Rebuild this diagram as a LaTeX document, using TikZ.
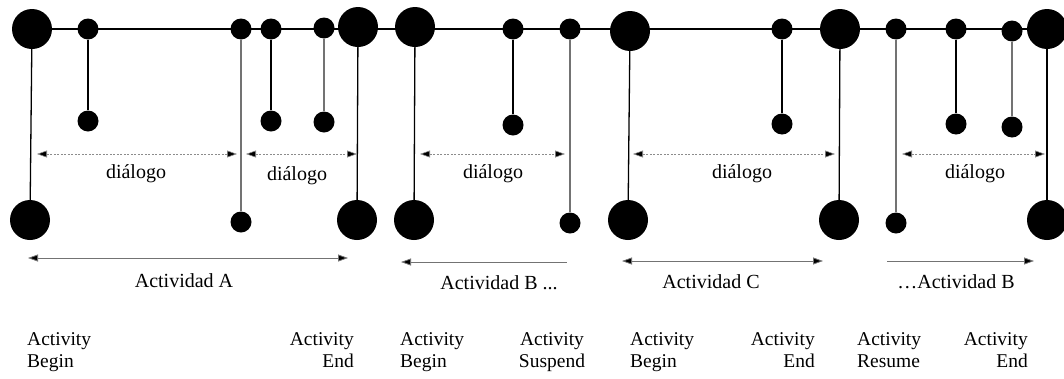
\documentclass[tikz,border=0pt]{standalone}
\usepackage{fontspec}
\setmainfont{Liberation Serif}
\usetikzlibrary{arrows.meta}
\begin{document}
\begin{tikzpicture}[x=1pt,y=-1pt,
  >={Triangle[length=10pt,width=7pt,fill=black]},
  big/.style={circle,fill=black,inner sep=0pt,minimum size=40pt},
  small/.style={circle,fill=black,inner sep=0pt,minimum size=21pt},
  stem/.style={draw=black,line width=1.3pt},
  faint/.style={draw=black!55,line width=1.2pt},
  dlg/.style={draw=black!45,line width=0.6pt,dash pattern=on 2pt off 1.5pt,<->},
  act/.style={draw=black!55,line width=0.8pt},
  lbl/.style={font=\fontsize{20}{20}\selectfont,inner sep=0pt},
  ev/.style={font=\fontsize{19.5}{22.5}\selectfont,inner sep=0pt}]
\useasboundingbox (0,0) rectangle (1064,378);

% events on the main time line
\node[big]   (T1)  at (32,29) {};
\node[small] (T2)  at (88,29) {};
\node[small] (T3)  at (241,29) {};
\node[small] (T4)  at (271,29) {};
\node[small] (T5)  at (324,28) {};
\node[big]   (T6)  at (358,27) {};
\node[big]   (T7)  at (415,27) {};
\node[small] (T8)  at (513,29) {};
\node[small] (T9)  at (570,29) {};
\node[big]   (T10) at (630,31) {};
\node[small] (T11) at (782,29) {};
\node[big]   (T12) at (840,29) {};
\node[small] (T13) at (896,29) {};
\node[small] (T14) at (956,29) {};
\node[small] (T15) at (1012,31) {};
\node[big]   (T16) at (1047,29) {};

% lower ends of the stems
\node[big]   (B1)  at (30,220) {};
\node[small] (B2)  at (88,121) {};
\node[small] (B3)  at (241,222) {};
\node[small] (B4)  at (271,121) {};
\node[small] (B5)  at (324,122) {};
\node[big]   (B6)  at (357,220) {};
\node[big]   (B7)  at (414,220) {};
\node[small] (B8)  at (513,125) {};
\node[small] (B9)  at (570,223) {};
\node[big]   (B10) at (628,220) {};
\node[small] (B11) at (782,124) {};
\node[big]   (B12) at (839,220) {};
\node[small] (B13) at (896,223) {};
\node[small] (B14) at (956,124) {};
\node[small] (B15) at (1012,127) {};
\node[big]   (B16) at (1047,220) {};

% time line and stems
\draw[stem] (T1) -- (T16);
\foreach \i in {1,2,4,6,7,8,10,11,12,14,16}
  \draw[stem] (T\i) -- (B\i);
\foreach \i in {3,5,9,13,15}
  \draw[faint] (T\i) -- (B\i);

% dialogue spans
\coordinate (d1a) at (37,154);  \coordinate (d1b) at (237,154);
\coordinate (d2a) at (246,154); \coordinate (d2b) at (357,154);
\coordinate (d3a) at (420,154); \coordinate (d3b) at (565,154);
\coordinate (d4a) at (633,154); \coordinate (d4b) at (835,154);
\coordinate (d5a) at (902,154); \coordinate (d5b) at (1045,154);
\draw[dlg] (d1a) -- (d1b);
\draw[dlg] (d2a) -- (d2b);
\draw[dlg] (d3a) -- (d3b);
\draw[dlg] (d4a) -- (d4b);
\draw[dlg] (d5a) -- (d5b);
\node[lbl,anchor=base] (g1) at (136,178) {diálogo};
\node[lbl,anchor=base] (g2) at (297,180) {diálogo};
\node[lbl,anchor=base] (g3) at (493,178) {diálogo};
\node[lbl,anchor=base] (g4) at (742,178) {diálogo};
\node[lbl,anchor=base] (g5) at (975,178) {diálogo};

% activity spans
\coordinate (a1a) at (28,258);  \coordinate (a1b) at (348,258);
\coordinate (a2a) at (401,262); \coordinate (a2b) at (567,262);
\coordinate (a3a) at (622,261); \coordinate (a3b) at (823,261);
\coordinate (a4a) at (887,261); \coordinate (a4b) at (1034,261);
\draw[act,<->] (a1a) -- (a1b);
\draw[act,<-] (a2a) -- (a2b);
\draw[act,<->] (a3a) -- (a3b);
\draw[act,->] (a4a) -- (a4b);
\node[lbl,anchor=base] (n1) at (184,287) {Actividad A};
\node[lbl,anchor=base] (n2) at (499,289) {Actividad B ...};
\node[lbl,anchor=base] (n3) at (711,288) {Actividad C};
\node[lbl,anchor=base] (n4) at (956,288) {…Actividad B};

% event names
\node[ev,anchor=north west,align=left]  (e1) at (27,332)  {Activity\\Begin};
\node[ev,anchor=north east,align=right] (e2) at (354,332) {Activity\\End};
\node[ev,anchor=north west,align=left]  (e3) at (400,332) {Activity\\Begin};
\node[ev,anchor=north,align=center]     (e4) at (552,332) {Activity\\Suspend};
\node[ev,anchor=north west,align=left]  (e5) at (630,332) {Activity\\Begin};
\node[ev,anchor=north east,align=right] (e6) at (815,332) {Activity\\End};
\node[ev,anchor=north west,align=left]  (e7) at (857,332) {Activity\\Resume};
\node[ev,anchor=north east,align=right] (e8) at (1028,332) {Activity\\End};
\end{tikzpicture}
\end{document}
